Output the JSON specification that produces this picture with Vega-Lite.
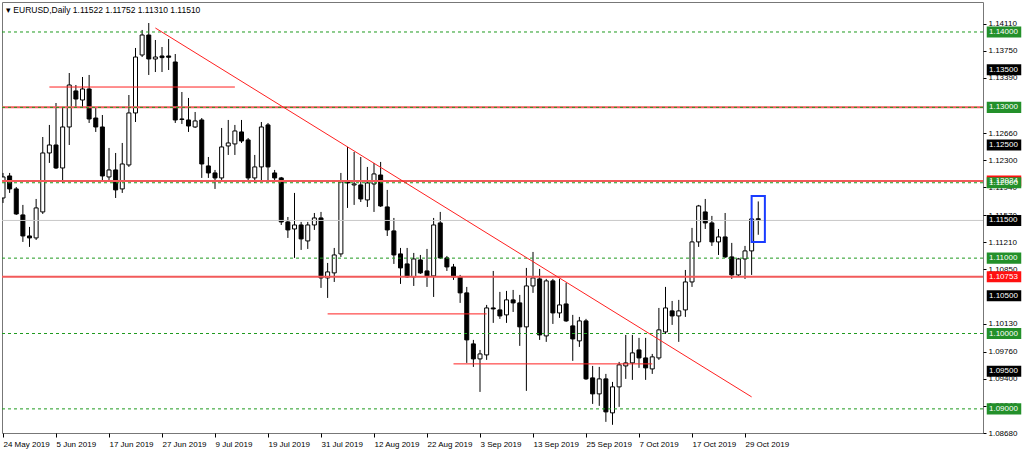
{
  "$schema": "https://vega.github.io/schema/vega-lite/v6.json",
  "width": 981,
  "height": 431,
  "autosize": "none",
  "padding": {"left": 2, "top": 2, "right": 41, "bottom": 21},
  "background": "#ffffff",
  "title": {"text": "▾ EURUSD,Daily  1.11522 1.11752 1.11310 1.11510", "anchor": "start", "frame": "group", "orient": "top", "offset": -12, "dx": 4, "font": "Liberation Sans", "fontSize": 8.5, "fontWeight": "normal", "color": "#000000"},
  "config": {
    "view": {"stroke": "#777777", "strokeWidth": 1},
    "axis": {"labelFont": "Liberation Sans", "labelFontSize": 8, "labelColor": "#000000", "tickColor": "#000000", "domain": false, "grid": false, "title": null}
  },
  "datasets": {
    "candles": [
      {"d":"2019-05-24","o":1.11798,"h":1.12130,"l":1.11732,"c":1.12077},
      {"d":"2019-05-27","o":1.12090,"h":1.12130,"l":1.11865,"c":1.11918},
      {"d":"2019-05-28","o":1.11918,"h":1.11944,"l":1.11573,"c":1.11586},
      {"d":"2019-05-29","o":1.11573,"h":1.11706,"l":1.11215,"c":1.11294},
      {"d":"2019-05-30","o":1.11294,"h":1.11414,"l":1.11149,"c":1.11268},
      {"d":"2019-05-31","o":1.11268,"h":1.11785,"l":1.11241,"c":1.11666},
      {"d":"2019-06-03","o":1.11613,"h":1.12607,"l":1.11586,"c":1.12395},
      {"d":"2019-06-04","o":1.12395,"h":1.12767,"l":1.12263,"c":1.12501},
      {"d":"2019-06-05","o":1.12501,"h":1.13058,"l":1.12183,"c":1.12196},
      {"d":"2019-06-06","o":1.12196,"h":1.13005,"l":1.11997,"c":1.12740},
      {"d":"2019-06-07","o":1.12740,"h":1.13456,"l":1.12501,"c":1.13297},
      {"d":"2019-06-10","o":1.13218,"h":1.13297,"l":1.13005,"c":1.13111},
      {"d":"2019-06-11","o":1.13098,"h":1.13403,"l":1.13005,"c":1.13244},
      {"d":"2019-06-12","o":1.13244,"h":1.13430,"l":1.12793,"c":1.12846},
      {"d":"2019-06-13","o":1.12859,"h":1.13005,"l":1.12674,"c":1.12740},
      {"d":"2019-06-14","o":1.12740,"h":1.12899,"l":1.12011,"c":1.12090},
      {"d":"2019-06-17","o":1.12077,"h":1.12462,"l":1.12037,"c":1.12170},
      {"d":"2019-06-18","o":1.12170,"h":1.12395,"l":1.11798,"c":1.11905},
      {"d":"2019-06-19","o":1.11918,"h":1.12528,"l":1.11865,"c":1.12249},
      {"d":"2019-06-20","o":1.12236,"h":1.13164,"l":1.12210,"c":1.12926},
      {"d":"2019-06-21","o":1.12926,"h":1.13788,"l":1.12806,"c":1.13668},
      {"d":"2019-06-24","o":1.13695,"h":1.14027,"l":1.13668,"c":1.13960},
      {"d":"2019-06-25","o":1.13960,"h":1.14119,"l":1.13430,"c":1.13642},
      {"d":"2019-06-26","o":1.13642,"h":1.13894,"l":1.13469,"c":1.13668},
      {"d":"2019-06-27","o":1.13682,"h":1.13801,"l":1.13469,"c":1.13660},
      {"d":"2019-06-28","o":1.13682,"h":1.13907,"l":1.13496,"c":1.13665},
      {"d":"2019-07-01","o":1.13602,"h":1.13708,"l":1.12793,"c":1.12833},
      {"d":"2019-07-02","o":1.12846,"h":1.13204,"l":1.12780,"c":1.12840},
      {"d":"2019-07-03","o":1.12833,"h":1.13125,"l":1.12674,"c":1.12753},
      {"d":"2019-07-04","o":1.12740,"h":1.12939,"l":1.12727,"c":1.12820},
      {"d":"2019-07-05","o":1.12833,"h":1.12859,"l":1.12064,"c":1.12249},
      {"d":"2019-07-08","o":1.12223,"h":1.12342,"l":1.12064,"c":1.12130},
      {"d":"2019-07-09","o":1.12130,"h":1.12170,"l":1.11918,"c":1.12064},
      {"d":"2019-07-10","o":1.12064,"h":1.12727,"l":1.12037,"c":1.12475},
      {"d":"2019-07-11","o":1.12488,"h":1.12833,"l":1.12369,"c":1.12528},
      {"d":"2019-07-12","o":1.12515,"h":1.12767,"l":1.12369,"c":1.12687},
      {"d":"2019-07-15","o":1.12674,"h":1.12833,"l":1.12528,"c":1.12554},
      {"d":"2019-07-16","o":1.12568,"h":1.12594,"l":1.12011,"c":1.12064},
      {"d":"2019-07-17","o":1.12064,"h":1.12369,"l":1.11997,"c":1.12210},
      {"d":"2019-07-18","o":1.12210,"h":1.12806,"l":1.12024,"c":1.12740},
      {"d":"2019-07-19","o":1.12767,"h":1.12793,"l":1.12024,"c":1.12210},
      {"d":"2019-07-22","o":1.12130,"h":1.12170,"l":1.12024,"c":1.12064},
      {"d":"2019-07-23","o":1.12064,"h":1.12077,"l":1.11440,"c":1.11480},
      {"d":"2019-07-24","o":1.11480,"h":1.11546,"l":1.11268,"c":1.11374},
      {"d":"2019-07-25","o":1.11387,"h":1.11865,"l":1.11003,"c":1.11440},
      {"d":"2019-07-26","o":1.11440,"h":1.11480,"l":1.11109,"c":1.11255},
      {"d":"2019-07-29","o":1.11228,"h":1.11480,"l":1.11122,"c":1.11440},
      {"d":"2019-07-30","o":1.11440,"h":1.11599,"l":1.11374,"c":1.11533},
      {"d":"2019-07-31","o":1.11533,"h":1.11613,"l":1.10605,"c":1.10737},
      {"d":"2019-08-01","o":1.10737,"h":1.10936,"l":1.10472,"c":1.10817},
      {"d":"2019-08-02","o":1.10804,"h":1.11135,"l":1.10684,"c":1.11042},
      {"d":"2019-08-05","o":1.11056,"h":1.12130,"l":1.11016,"c":1.12011},
      {"d":"2019-08-06","o":1.12024,"h":1.12475,"l":1.11666,"c":1.11997},
      {"d":"2019-08-07","o":1.11971,"h":1.12408,"l":1.11706,"c":1.11984},
      {"d":"2019-08-08","o":1.11971,"h":1.12342,"l":1.11745,"c":1.11785},
      {"d":"2019-08-09","o":1.11772,"h":1.12210,"l":1.11679,"c":1.11997},
      {"d":"2019-08-12","o":1.11984,"h":1.12263,"l":1.11613,"c":1.12117},
      {"d":"2019-08-13","o":1.12103,"h":1.12276,"l":1.11679,"c":1.11692},
      {"d":"2019-08-14","o":1.11679,"h":1.11905,"l":1.11294,"c":1.11374},
      {"d":"2019-08-15","o":1.11361,"h":1.11533,"l":1.10923,"c":1.11042},
      {"d":"2019-08-16","o":1.11056,"h":1.11135,"l":1.10658,"c":1.10870},
      {"d":"2019-08-19","o":1.10923,"h":1.11135,"l":1.10737,"c":1.10751},
      {"d":"2019-08-20","o":1.10751,"h":1.11069,"l":1.10631,"c":1.10989},
      {"d":"2019-08-21","o":1.10976,"h":1.11042,"l":1.10790,"c":1.10804},
      {"d":"2019-08-22","o":1.10830,"h":1.11122,"l":1.10618,"c":1.10764},
      {"d":"2019-08-23","o":1.10764,"h":1.11533,"l":1.10485,"c":1.11440},
      {"d":"2019-08-26","o":1.11467,"h":1.11613,"l":1.10989,"c":1.11003},
      {"d":"2019-08-27","o":1.11003,"h":1.11029,"l":1.10830,"c":1.10883},
      {"d":"2019-08-28","o":1.10883,"h":1.10923,"l":1.10711,"c":1.10751},
      {"d":"2019-08-29","o":1.10751,"h":1.10777,"l":1.10406,"c":1.10539},
      {"d":"2019-08-30","o":1.10539,"h":1.10618,"l":1.09610,"c":1.09915},
      {"d":"2019-09-02","o":1.09862,"h":1.09915,"l":1.09557,"c":1.09663},
      {"d":"2019-09-03","o":1.09663,"h":1.09782,"l":1.09225,"c":1.09729},
      {"d":"2019-09-04","o":1.09716,"h":1.10379,"l":1.09650,"c":1.10339},
      {"d":"2019-09-05","o":1.10339,"h":1.10830,"l":1.10141,"c":1.10326},
      {"d":"2019-09-06","o":1.10313,"h":1.10552,"l":1.10194,"c":1.10233},
      {"d":"2019-09-09","o":1.10247,"h":1.10565,"l":1.10141,"c":1.10446},
      {"d":"2019-09-10","o":1.10446,"h":1.10578,"l":1.10286,"c":1.10406},
      {"d":"2019-09-11","o":1.10406,"h":1.10512,"l":1.09836,"c":1.10088},
      {"d":"2019-09-12","o":1.10088,"h":1.10870,"l":1.09239,"c":1.10631},
      {"d":"2019-09-13","o":1.10631,"h":1.11082,"l":1.10539,"c":1.10737},
      {"d":"2019-09-16","o":1.10724,"h":1.10857,"l":1.09915,"c":1.09981},
      {"d":"2019-09-17","o":1.09968,"h":1.10724,"l":1.09889,"c":1.10698},
      {"d":"2019-09-18","o":1.10698,"h":1.10724,"l":1.10127,"c":1.10273},
      {"d":"2019-09-19","o":1.10273,"h":1.10724,"l":1.10207,"c":1.10379},
      {"d":"2019-09-20","o":1.10392,"h":1.10671,"l":1.10154,"c":1.10167},
      {"d":"2019-09-23","o":1.10101,"h":1.10247,"l":1.09637,"c":1.09928},
      {"d":"2019-09-24","o":1.09902,"h":1.10220,"l":1.09822,"c":1.10167},
      {"d":"2019-09-25","o":1.10167,"h":1.10194,"l":1.09385,"c":1.09398},
      {"d":"2019-09-26","o":1.09411,"h":1.09570,"l":1.09066,"c":1.09199},
      {"d":"2019-09-27","o":1.09199,"h":1.09557,"l":1.09040,"c":1.09398},
      {"d":"2019-09-30","o":1.09398,"h":1.09464,"l":1.08828,"c":1.08960},
      {"d":"2019-10-01","o":1.08947,"h":1.09358,"l":1.08789,"c":1.09292},
      {"d":"2019-10-02","o":1.09292,"h":1.09623,"l":1.09027,"c":1.09584},
      {"d":"2019-10-03","o":1.09570,"h":1.09981,"l":1.09398,"c":1.09610},
      {"d":"2019-10-04","o":1.09610,"h":1.09981,"l":1.09385,"c":1.09743},
      {"d":"2019-10-07","o":1.09782,"h":1.09942,"l":1.09544,"c":1.09676},
      {"d":"2019-10-08","o":1.09676,"h":1.09942,"l":1.09385,"c":1.09544},
      {"d":"2019-10-09","o":1.09530,"h":1.09729,"l":1.09464,"c":1.09690},
      {"d":"2019-10-10","o":1.09676,"h":1.10339,"l":1.09650,"c":1.10048},
      {"d":"2019-10-11","o":1.10021,"h":1.10618,"l":1.09995,"c":1.10339},
      {"d":"2019-10-14","o":1.10300,"h":1.10432,"l":1.10114,"c":1.10233},
      {"d":"2019-10-15","o":1.10233,"h":1.10446,"l":1.09889,"c":1.10300},
      {"d":"2019-10-16","o":1.10313,"h":1.10843,"l":1.10220,"c":1.10684},
      {"d":"2019-10-17","o":1.10684,"h":1.11401,"l":1.10618,"c":1.11215},
      {"d":"2019-10-18","o":1.11215,"h":1.11706,"l":1.11149,"c":1.11692},
      {"d":"2019-10-21","o":1.11613,"h":1.11785,"l":1.11387,"c":1.11467},
      {"d":"2019-10-22","o":1.11467,"h":1.11560,"l":1.11162,"c":1.11215},
      {"d":"2019-10-23","o":1.11215,"h":1.11387,"l":1.11042,"c":1.11281},
      {"d":"2019-10-24","o":1.11281,"h":1.11599,"l":1.11003,"c":1.11016},
      {"d":"2019-10-25","o":1.11016,"h":1.11202,"l":1.10724,"c":1.10777},
      {"d":"2019-10-28","o":1.10777,"h":1.11003,"l":1.10751,"c":1.10989},
      {"d":"2019-10-29","o":1.10989,"h":1.11162,"l":1.10724,"c":1.11096},
      {"d":"2019-10-30","o":1.11096,"h":1.11520,"l":1.10777,"c":1.11520},
      {"d":"2019-10-31","o":1.11522,"h":1.11752,"l":1.11310,"c":1.11510}
    ],
    "badges": [
      {"p":1.14000,"k":"green"},
      {"p":1.13500,"k":"black"},
      {"p":1.13000,"k":"green"},
      {"p":1.12500,"k":"black"},
      {"p":1.12024,"k":"red"},
      {"p":1.12000,"k":"green"},
      {"p":1.11500,"k":"black"},
      {"p":1.11000,"k":"green"},
      {"p":1.10753,"k":"red"},
      {"p":1.10500,"k":"black"},
      {"p":1.10000,"k":"green"},
      {"p":1.09500,"k":"black"},
      {"p":1.09000,"k":"green"}
    ]
  },
  "encoding": {
    "y": {
      "type": "quantitative",
      "scale": {"domain": [1.0868, 1.14398], "zero": false, "nice": false},
      "axis": {
        "orient": "right",
        "values": [1.1411, 1.1375, 1.1339, 1.1266, 1.1230, 1.1194, 1.1157, 1.1121, 1.1085, 1.1013, 1.0976, 1.0940, 1.0904, 1.0868],
        "format": ".5f", "tickSize": 3, "labelPadding": 2, "labelBaseline": "middle"
      }
    }
  },
  "layer": [
    {
      "data": {"name": "candles"},
      "mark": {"type": "rule", "color": "#000000", "strokeWidth": 1, "clip": true},
      "encoding": {
        "x": {
          "field": "d", "type": "ordinal",
          "scale": {"type": "point", "range": [1, 762.875], "padding": 0},
          "axis": {
            "orient": "bottom",
            "values": ["2019-05-24","2019-06-05","2019-06-17","2019-06-27","2019-07-09","2019-07-19","2019-07-31","2019-08-12","2019-08-22","2019-09-03","2019-09-13","2019-09-25","2019-10-07","2019-10-17","2019-10-29"],
            "labelExpr": "utcFormat(toDate(datum.value), '%-d %b %Y')",
            "labelAngle": 0, "labelAlign": "left", "labelBaseline": "top", "labelPadding": 3,
            "labelOverlap": false, "labelFlush": false, "tickSize": 4
          }
        },
        "y": {"field": "l"}, "y2": {"field": "h"}
      }
    },
    {
      "data": {"name": "candles"},
      "mark": {"type": "bar", "width": 4, "stroke": "#000000", "strokeWidth": 1, "clip": true},
      "encoding": {
        "x": {"field": "d", "type": "ordinal"},
        "y": {"field": "o"}, "y2": {"field": "c"},
        "fill": {"condition": {"test": "datum.c < datum.o", "value": "#000000"}, "value": "#ffffff"}
      }
    },
    {
      "data": {"values": [{"p": 1.11500}]},
      "mark": {"type": "rule", "color": "#c8c8c8", "strokeWidth": 1},
      "encoding": {"y": {"field": "p"}}
    },
    {
      "data": {"values": [{"p": 1.13003}, {"p": 1.12024}, {"p": 1.10753}]},
      "mark": {"type": "rule", "color": "#f25a5a", "strokeWidth": 2},
      "encoding": {"y": {"field": "p"}}
    },
    {
      "data": {"values": [{"p": 1.14}, {"p": 1.13}, {"p": 1.12}, {"p": 1.11}, {"p": 1.10}, {"p": 1.09}]},
      "mark": {"type": "rule", "color": "#1f9a1f", "strokeWidth": 1, "strokeDash": [3, 3]},
      "encoding": {"y": {"field": "p"}}
    },
    {
      "data": {"values": [
        {"d1": "2019-06-04", "d2": "2019-07-12", "p1": 1.13270, "p2": 1.13270},
        {"d1": "2019-08-01", "d2": "2019-09-04", "p1": 1.10260, "p2": 1.10260},
        {"d1": "2019-08-28", "d2": "2019-10-09", "p1": 1.09597, "p2": 1.09597},
        {"d1": "2019-06-26", "d2": "2019-10-30", "p1": 1.14053, "p2": 1.09159}
      ]},
      "mark": {"type": "rule", "color": "#ff2020", "strokeWidth": 1, "clip": true},
      "encoding": {"x": {"field": "d1", "type": "ordinal"}, "x2": {"field": "d2"}, "y": {"field": "p1"}, "y2": {"field": "p2"}}
    },
    {
      "data": {"values": [{"d1": "2019-10-30", "d2": "2019-11-01", "top": 1.11825, "bottom": 1.11215}]},
      "mark": {"type": "rect", "fill": null, "fillOpacity": 0, "stroke": "#1a3cff", "strokeWidth": 2},
      "encoding": {"x": {"field": "d1", "type": "ordinal"}, "x2": {"field": "d2"}, "y": {"field": "top"}, "y2": {"field": "bottom"}}
    },
    {
      "data": {"name": "badges"},
      "mark": {"type": "point", "shape": "M-1,-0.32H1V0.32H-1Z", "filled": true, "opacity": 1, "size": 1190, "xOffset": 21},
      "encoding": {
        "x": {"value": "width"},
        "y": {"field": "p"},
        "fill": {"field": "k", "type": "nominal", "scale": {"domain": ["green", "black", "red"], "range": ["#23902a", "#000000", "#ff1010"]}, "legend": null}
      }
    },
    {
      "data": {"name": "badges"},
      "mark": {"type": "text", "align": "left", "baseline": "middle", "dx": 6, "font": "Liberation Sans", "fontSize": 8, "color": "#ffffff"},
      "encoding": {
        "x": {"value": "width"},
        "y": {"field": "p"},
        "text": {"field": "p", "type": "quantitative", "format": ".5f"}
      }
    }
  ]
}
